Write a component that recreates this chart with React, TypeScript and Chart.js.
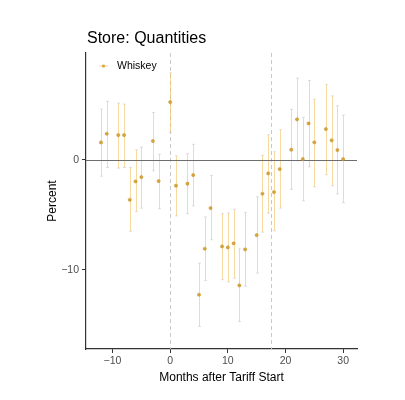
import React, { useEffect, useRef } from 'react';
import { Chart, registerables } from 'chart.js';

Chart.register(...registerables);

const chartTitle = 'Store: Quantities';
const seriesLabel = 'Whiskey';
const xAxisTitle = 'Months after Tariff Start';
const yAxisTitle = 'Percent';

const months = [-12, -11, -9, -8, -7, -6, -5, -3, -2, 0, 1, 3, 4, 5, 6, 7, 9, 10, 11, 12, 13, 15, 16, 17, 18, 19, 21, 22, 23, 24, 25, 27, 28, 29, 30];
const estimates = [1.57, 2.36, 2.24, 2.24, -3.64, -1.97, -1.58, 1.7, -1.94, 5.24, -2.36, -2.18, -1.39, -12.27, -8.09, -4.39, -7.88, -7.97, -7.6, -11.42, -8.15, -6.85, -3.09, -1.24, -2.94, -0.85, 0.91, 3.67, 0.06, 3.3, 1.58, 2.79, 1.76, 0.88, 0.06];
const lowerCI = [-1.5, -0.7, -0.76, -0.7, -6.5, -4.7, -4.4, -1.0, -4.45, 2.5, -5.1, -4.9, -4.2, -15.15, -10.97, -7.27, -10.9, -11.1, -10.76, -14.7, -11.5, -10.3, -6.58, -4.85, -6.45, -4.4, -2.7, -0.1, -3.73, -0.64, -2.45, -1.36, -2.36, -3.1, -3.9];
const upperCI = [4.6, 5.3, 5.15, 5.06, -0.7, 0.9, 1.15, 4.3, 0.5, 7.9, 0.36, 0.55, 1.4, -9.4, -5.2, -1.42, -4.9, -4.85, -4.5, -8.1, -4.8, -3.36, 0.39, 2.27, 0.73, 2.73, 4.58, 7.42, 3.85, 7.2, 5.5, 6.85, 5.8, 4.9, 4.06];

const xTickValues = [-10, 0, 10, 20, 30];
const yTickValues = [-10, 0];
const dashedLineMonths = [0, 17.5];
const zeroLineValue = 0;

const FONT = "'Liberation Sans', Arial, Helvetica, sans-serif";
const POINT_FILL = '#d8a536';
const POINT_BORDER = '#c08e2e';
const BAR_COLOR = 'rgba(243, 192, 95, 0.6)';

const fmt = (v: number) => (v < 0 ? '\u2212' + Math.abs(v) : String(v));

export default function App() {
  const ref = useRef<HTMLCanvasElement>(null);

  useEffect(() => {
    document.body.style.margin = '0';
    const canvas = ref.current;
    if (!canvas) return;

    const deco = {
      id: 'deco',
      beforeDatasetsDraw(chart: any) {
        const { ctx, chartArea, scales } = chart;
        const x = scales.x;
        const y = scales.y;
        ctx.save();
        ctx.strokeStyle = '#c9c9c9';
        ctx.lineWidth = 1;
        ctx.setLineDash([4, 3]);
        dashedLineMonths.forEach((m) => {
          const px = Math.round(x.getPixelForValue(m)) + 0.5;
          ctx.beginPath();
          ctx.moveTo(px, chartArea.top);
          ctx.lineTo(px, chartArea.bottom);
          ctx.stroke();
        });
        ctx.setLineDash([]);
        months.forEach((m, i) => {
          const px = Math.round(x.getPixelForValue(m)) + 0.5;
          const pLo = y.getPixelForValue(lowerCI[i]);
          const pHi = y.getPixelForValue(upperCI[i]);
          ctx.strokeStyle = BAR_COLOR;
          ctx.lineWidth = 1;
          ctx.beginPath();
          ctx.moveTo(px, pLo);
          ctx.lineTo(px, pHi);
          ctx.stroke();
          ctx.strokeStyle = 'rgba(205,205,205,0.6)';
          ctx.beginPath();
          ctx.moveTo(px - 1.5, pLo);
          ctx.lineTo(px + 1.5, pLo);
          ctx.moveTo(px - 1.5, pHi);
          ctx.lineTo(px + 1.5, pHi);
          ctx.stroke();
        });
        const py0 = Math.round(y.getPixelForValue(zeroLineValue)) + 0.5;
        ctx.strokeStyle = '#6e6e6e';
        ctx.lineWidth = 1;
        ctx.beginPath();
        ctx.moveTo(chartArea.left, py0);
        ctx.lineTo(chartArea.right, py0);
        ctx.stroke();
        ctx.restore();
      },
      afterDraw(chart: any) {
        const { ctx, chartArea } = chart;
        ctx.save();
        ctx.fillStyle = '#000';
        ctx.font = `16px ${FONT}`;
        ctx.textAlign = 'left';
        ctx.textBaseline = 'alphabetic';
        ctx.fillText(chartTitle, chartArea.left + 1, 43);
        const lx = chartArea.left + 17.5;
        const ly = 66;
        ctx.strokeStyle = BAR_COLOR;
        ctx.lineWidth = 1;
        ctx.beginPath();
        ctx.moveTo(lx - 4.5, ly);
        ctx.lineTo(lx + 4.5, ly);
        ctx.stroke();
        ctx.fillStyle = POINT_FILL;
        ctx.beginPath();
        ctx.arc(lx, ly, 1.6, 0, Math.PI * 2);
        ctx.fill();
        ctx.fillStyle = '#000';
        ctx.font = `10.5px ${FONT}`;
        ctx.textBaseline = 'middle';
        ctx.fillText(seriesLabel, chartArea.left + 31, ly + 0.5);
        ctx.restore();
      },
    };

    const chart = new Chart(canvas, {
      type: 'scatter',
      data: {
        datasets: [
          {
            label: seriesLabel,
            data: months.map((m, i) => ({ x: m, y: estimates[i] })),
            pointRadius: 1.6,
            pointHoverRadius: 1.6,
            pointBackgroundColor: POINT_FILL,
            pointBorderColor: POINT_BORDER,
            pointBorderWidth: 0.5,
            showLine: false,
          },
        ],
      },
      options: {
        responsive: false,
        animation: false,
        events: [],
        layout: { padding: { left: 0, top: 53, right: 48, bottom: 0 } },
        plugins: {
          legend: { display: false },
          tooltip: { enabled: false },
          title: { display: false },
        },
        scales: {
          x: {
            type: 'linear',
            min: -14.6,
            max: 32.4,
            afterBuildTicks: (s: any) => {
              s.ticks = xTickValues.map((value) => ({ value }));
            },
            afterFit: (s: any) => {
              s.height = 51;
            },
            ticks: {
              callback: (v: any) => fmt(Number(v)),
              font: { family: FONT, size: 10.5 },
              color: '#4d4d4d',
              padding: 2,
              maxRotation: 0,
              autoSkip: false,
            },
            grid: {
              drawOnChartArea: false,
              drawTicks: true,
              tickLength: 4,
              tickColor: '#333',
            },
            border: { display: true, color: '#333', width: 1.2 },
            title: {
              display: true,
              text: xAxisTitle,
              color: '#000',
              font: { family: FONT, size: 12 },
              padding: { top: 0, bottom: 15 },
            },
          },
          y: {
            type: 'linear',
            min: -17.2,
            max: 9.7,
            afterBuildTicks: (s: any) => {
              s.ticks = yTickValues.map((value) => ({ value }));
            },
            afterFit: (s: any) => {
              s.width = 86;
            },
            ticks: {
              callback: (v: any) => fmt(Number(v)),
              font: { family: FONT, size: 10.5 },
              color: '#4d4d4d',
              padding: 3,
              autoSkip: false,
            },
            grid: {
              drawOnChartArea: false,
              drawTicks: true,
              tickLength: 4,
              tickColor: '#333',
            },
            border: { display: true, color: '#333', width: 1.2 },
            title: {
              display: true,
              text: yAxisTitle,
              color: '#000',
              font: { family: FONT, size: 12 },
              padding: { top: 45, bottom: 0 },
            },
          },
        },
      },
      plugins: [deco],
    } as any);

    return () => {
      chart.destroy();
    };
  }, []);

  return (
    <div style={{ position: 'absolute', left: 0, top: 0, width: 405, height: 400, background: '#fff' }}>
      <canvas ref={ref} width={405} height={400} style={{ display: 'block', width: 405, height: 400 }} />
    </div>
  );
}
